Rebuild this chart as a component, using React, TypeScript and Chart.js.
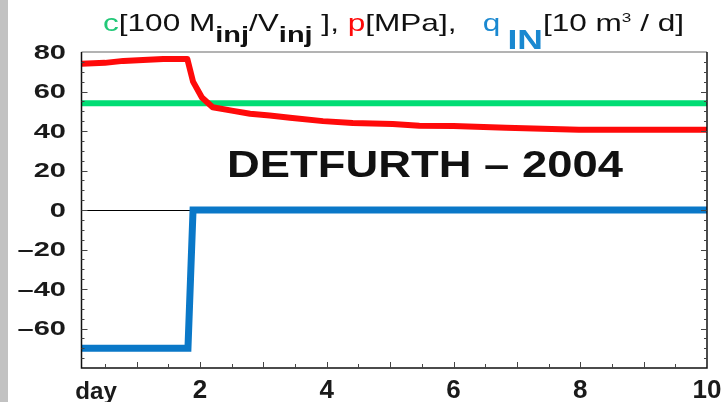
import { useEffect, useRef } from "react";
import { Chart, registerables } from "chart.js";

Chart.register(...registerables);

// ---- data ----
const redX = [0.13, 0.5, 0.79, 1.1, 1.42, 1.8, 1.89, 2.03, 2.2, 2.5, 2.79, 3.1, 3.42, 3.94, 4.41, 5.04, 5.46, 6.0, 6.83, 7.98, 10];
const redY = [74, 74.5, 75.5, 76, 76.5, 76.5, 65, 57, 52, 50.3, 48.7, 47.8, 46.7, 45, 44, 43.6, 42.6, 42.5, 41.6, 40.6, 40.6];
const greenX = [0.13, 10];
const greenY = [54, 54];
const blueX = [0.13, 1.81, 1.85, 1.89, 10];
const blueY = [-70, -70, -35, 0, 0];

const yTickValues = [80, 60, 40, 20, 0, -20, -40, -60];
const xTickValues = [2, 4, 6, 8, 10];
const xTickLabels = ["2", "4", "6", "8", "10"];
const xUnitLabel = "day";
const xUnitPos = 0.36;
const plotLabel = "DETFURTH \u2013 2004";
const plotLabelX = 5.55;
const plotLabelY = 21.5;

const X_MIN = 0.13;
const X_MAX = 10;
const Y_MIN = -80;
const Y_MAX = 80;

const GREEN = "#00dd74";
const RED = "#ff0a0a";
const BLUE = "#0a78c8";
const FONT = '"Liberation Sans", Arial, sans-serif';

function pts(xs: number[], ys: number[]) {
  return xs.map((x, i) => ({ x, y: ys[i] }));
}

function drawStretched(
  ctx: CanvasRenderingContext2D,
  text: string,
  x: number,
  y: number,
  font: string,
  color: string,
  align: "left" | "center" | "right",
  sx: number,
  baseline: CanvasTextBaseline = "alphabetic"
) {
  ctx.save();
  ctx.font = font;
  ctx.fillStyle = color;
  ctx.textBaseline = baseline;
  ctx.textAlign = "left";
  const w = ctx.measureText(text).width * sx;
  const left = align === "right" ? x - w : align === "center" ? x - w / 2 : x;
  ctx.translate(left, y);
  ctx.scale(sx, 1);
  ctx.fillText(text, 0, 0);
  ctx.restore();
}

const decorPlugin = {
  id: "decor",
  beforeDraw(chart: any) {
    const ctx: CanvasRenderingContext2D = chart.ctx;
    ctx.save();
    ctx.fillStyle = "#ffffff";
    ctx.fillRect(0, 0, chart.width, chart.height);
    ctx.fillStyle = "#c2c2c2";
    ctx.fillRect(0, 0, 8, chart.height);
    ctx.restore();
  },
  beforeDatasetsDraw(chart: any) {
    const ctx: CanvasRenderingContext2D = chart.ctx;
    const { left, right } = chart.chartArea;
    const ys = chart.scales.y;
    const y0 = Math.round(ys.getPixelForValue(0)) + 0.5;
    ctx.save();
    ctx.strokeStyle = "#000";
    ctx.lineWidth = 1.2;
    ctx.beginPath();
    ctx.moveTo(left, y0);
    ctx.lineTo(right, y0);
    ctx.stroke();
    ctx.restore();
  },
  afterDraw(chart: any) {
    const ctx: CanvasRenderingContext2D = chart.ctx;
    const { left, right, top, bottom } = chart.chartArea;
    const xs = chart.scales.x;
    const ys = chart.scales.y;

    // frame
    ctx.save();
    ctx.lineWidth = 1.5;
    ctx.strokeStyle = "#9a9a9a";
    ctx.beginPath();
    ctx.moveTo(left, top);
    ctx.lineTo(right, top);
    ctx.stroke();
    ctx.strokeStyle = "#111";
    ctx.beginPath();
    ctx.moveTo(left, top);
    ctx.lineTo(left, bottom);
    ctx.lineTo(right, bottom);
    ctx.lineTo(right, top);
    ctx.stroke();

    // tick marks
    ctx.lineWidth = 1;
    ctx.strokeStyle = "#444";
    ctx.beginPath();
    for (let v = Y_MIN + 5; v < Y_MAX; v += 5) {
      const py = Math.round(ys.getPixelForValue(v)) + 0.5;
      const len = v % 20 === 0 ? 6 : 3;
      ctx.moveTo(left, py);
      ctx.lineTo(left + len, py);
      ctx.moveTo(right, py);
      ctx.lineTo(right - len, py);
    }
    for (let v = 0.5; v < X_MAX; v += 0.5) {
      if (v < X_MIN) continue;
      const px = Math.round(xs.getPixelForValue(v)) + 0.5;
      const len = Number.isInteger(v) ? 6 : 4;
      ctx.moveTo(px, bottom);
      ctx.lineTo(px, bottom - len);
    }
    ctx.stroke();
    ctx.restore();

    // y tick labels
    yTickValues.forEach((v) => {
      const txt = v < 0 ? "\u2013" + Math.abs(v) : String(v);
      drawStretched(ctx, txt, 66, ys.getPixelForValue(v) + 1, `bold 20px ${FONT}`, "#1a1a1a", "right", 1.45, "middle");
    });

    // x tick labels
    xTickValues.forEach((v, i) => {
      drawStretched(ctx, xTickLabels[i], xs.getPixelForValue(v), 398, `bold 26px ${FONT}`, "#1a1a1a", "center", 1.0);
    });
    drawStretched(ctx, xUnitLabel, xs.getPixelForValue(xUnitPos), 399, `bold 23px ${FONT}`, "#1a1a1a", "center", 1.05);

    // in-plot label
    drawStretched(
      ctx,
      plotLabel,
      xs.getPixelForValue(plotLabelX),
      ys.getPixelForValue(plotLabelY),
      `bold 36px ${FONT}`,
      "#111",
      "center",
      1.26,
      "middle"
    );

    // title
    const main = `24px ${FONT}`;
    const sub = `bold 22px ${FONT}`;
    const segs = [
      { t: "c", f: main, c: "#22c878", dy: 0 },
      { t: "[100 M", f: main, c: "#111", dy: 0 },
      { t: "inj", f: sub, c: "#111", dy: 11 },
      { t: "/V", f: main, c: "#111", dy: 0 },
      { t: "inj", f: sub, c: "#111", dy: 11 },
      { t: " ], ", f: main, c: "#111", dy: 0 },
      { t: "p", f: main, c: RED, dy: 0 },
      { t: "[MPa],   ", f: main, c: "#111", dy: 0 },
      { t: "q", f: main, c: "#1a88d0", dy: 0 },
      { t: "\u2009IN", f: `bold 27px ${FONT}`, c: "#1a88d0", dy: 18 },
      { t: "[10 m", f: main, c: "#111", dy: 0 },
      { t: "3", f: `13px ${FONT}`, c: "#111", dy: -9 },
      { t: " / d]", f: main, c: "#111", dy: 0 },
    ];
    ctx.save();
    let total = 0;
    segs.forEach((s) => {
      ctx.font = s.f;
      total += ctx.measureText(s.t).width;
    });
    const x0 = 103;
    const x1 = 684;
    const k = (x1 - x0) / total;
    ctx.translate(x0, 31);
    ctx.scale(k, 1);
    ctx.textBaseline = "alphabetic";
    ctx.textAlign = "left";
    let cx = 0;
    segs.forEach((s) => {
      ctx.font = s.f;
      ctx.fillStyle = s.c;
      ctx.fillText(s.t, cx, s.dy);
      cx += ctx.measureText(s.t).width;
    });
    ctx.restore();
  },
};

export default function App() {
  const ref = useRef<HTMLCanvasElement | null>(null);
  useEffect(() => {
    if (!ref.current) return;
    const chart = new Chart(ref.current, {
      type: "scatter",
      data: {
        datasets: [
          { data: pts(redX, redY), borderColor: RED, borderWidth: 6, showLine: true, pointRadius: 0, tension: 0, borderJoinStyle: "round" },
          { data: pts(blueX, blueY), borderColor: BLUE, borderWidth: 7, showLine: true, pointRadius: 0, tension: 0, borderJoinStyle: "miter" },
          { data: pts(greenX, greenY), borderColor: GREEN, borderWidth: 6, showLine: true, pointRadius: 0, tension: 0 },
        ] as any,
      },
      options: {
        responsive: false,
        animation: false,
        devicePixelRatio: 1,
        layout: { padding: { left: 81.5, top: 52, right: 16, bottom: 34 } },
        plugins: { legend: { display: false }, tooltip: { enabled: false } },
        scales: {
          x: { type: "linear", display: false, min: X_MIN, max: X_MAX },
          y: { type: "linear", display: false, min: Y_MIN, max: Y_MAX },
        },
      },
      plugins: [decorPlugin],
    });
    return () => chart.destroy();
  }, []);
  return (
    <div style={{ position: "absolute", left: 0, top: 0, width: 723, height: 402 }}>
      <canvas ref={ref} width={723} height={402} />
    </div>
  );
}
